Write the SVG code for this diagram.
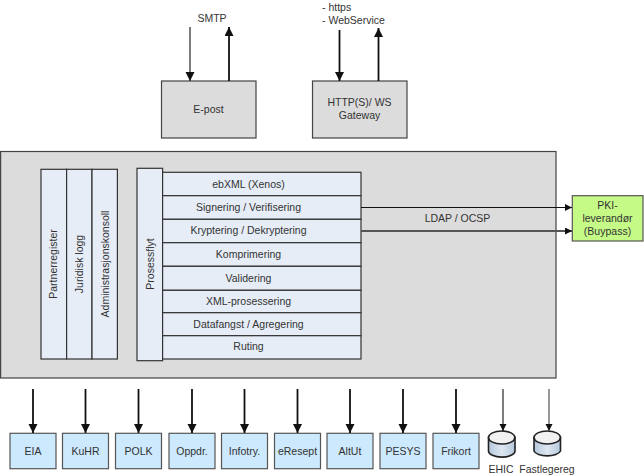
<svg xmlns="http://www.w3.org/2000/svg" width="644" height="476" viewBox="0 0 644 476">
<style>
text{font-family:"Liberation Sans",Arial,sans-serif;font-size:10.5px;fill:#333;text-anchor:middle}
.grey{fill:#dcdcdc;stroke:#444;stroke-width:1.2}
.pale{fill:#e6edf7;stroke:#333;stroke-width:1.2}
.sys{fill:#cce9fd;stroke:#555;stroke-width:1.2}
.pki{fill:#c6fa87;stroke:#555;stroke-width:1.2}
.conn{fill:none;stroke:#111;stroke-width:1.8}
.thin{stroke-width:1.1}
.body{fill:url(#drum);stroke:#222;stroke-width:1.6}
.top{fill:#f1f1f1;stroke:#222;stroke-width:1.6}
</style>
<defs>
<marker id="arr" markerUnits="userSpaceOnUse" markerWidth="10" markerHeight="10" refX="9" refY="4.5" orient="auto"><path d="M0,0L9,4.5L0,9z" fill="#111"/></marker>
<marker id="arrs" markerUnits="userSpaceOnUse" markerWidth="8" markerHeight="8" refX="7" refY="3.5" orient="auto"><path d="M0,0L7,3.5L0,7z" fill="#111"/></marker>
<linearGradient id="drum" x1="0" x2="1" y1="0" y2="0"><stop offset="0" stop-color="#b5c8de"/><stop offset="0.5" stop-color="#dfe7f0"/><stop offset="1" stop-color="#b5c8de"/></linearGradient>
</defs>

<g id="platform"><rect class="grey" x="0.6" y="151.5" width="555.4" height="226.5"/></g>

<g id="epost"><rect class="grey" x="161.5" y="81" width="94.5" height="57"/><text x="208.5" y="113">E-post</text></g>
<g id="gateway"><rect class="grey" x="312.5" y="81" width="94.5" height="57"/><text x="359.5" y="106">HTTP(S)/ WS</text><text x="359.5" y="119">Gateway</text></g>

<g id="partnerregister"><rect class="pale" x="41" y="169.3" width="25.6" height="189.7"/><text transform="translate(57,264) rotate(-90)">Partnerregister</text></g>
<g id="juridisk-logg"><rect class="pale" x="66.6" y="169.3" width="25.4" height="189.7"/><text transform="translate(83,264) rotate(-90)">Juridisk logg</text></g>
<g id="adminkonsoll"><rect class="pale" x="92" y="169.3" width="25.4" height="189.7"/><text transform="translate(108.5,264) rotate(-90)">Administrasjonskonsoll</text></g>
<g id="prosessflyt"><rect class="pale" x="137" y="168.3" width="25.6" height="192.4"/><text transform="translate(153.5,264) rotate(-90)">Prosessflyt</text></g>

<g id="ebxml"><rect class="pale" x="162.6" y="172.3" width="198.4" height="23.4"/><text x="248.5" y="188">ebXML (Xenos)</text></g>
<g id="signering"><rect class="pale" x="162.6" y="195.7" width="198.4" height="23.6"/><text x="248.5" y="210.5">Signering / Verifisering</text></g>
<g id="kryptering"><rect class="pale" x="162.6" y="219.3" width="198.4" height="23.4"/><text x="248.5" y="234">Kryptering / Dekryptering</text></g>
<g id="komprimering"><rect class="pale" x="162.6" y="242.7" width="198.4" height="23.6"/><text x="248.5" y="258">Komprimering</text></g>
<g id="validering"><rect class="pale" x="162.6" y="266.3" width="198.4" height="24"/><text x="248.5" y="281.5">Validering</text></g>
<g id="xml-prosessering"><rect class="pale" x="162.6" y="290.3" width="198.4" height="22.4"/><text x="248.5" y="305">XML-prosessering</text></g>
<g id="datafangst"><rect class="pale" x="162.6" y="312.7" width="198.4" height="23"/><text x="248.5" y="328">Datafangst / Agregering</text></g>
<g id="ruting"><rect class="pale" x="162.6" y="335.7" width="198.4" height="23.3"/><text x="248.5" y="350">Ruting</text></g>

<g id="pki"><rect class="pki" x="572.3" y="195.7" width="70.7" height="45.3"/><text x="607.5" y="209">PKI-</text><text x="607.5" y="222">leverandør</text><text x="607.5" y="235">(Buypass)</text></g>

<g id="eia"><rect class="sys" x="10" y="433.3" width="46" height="35.4"/><text x="33" y="454.5">EIA</text></g>
<g id="kuhr"><rect class="sys" x="62.5" y="433.3" width="46" height="35.4"/><text x="85.5" y="454.5">KuHR</text></g>
<g id="polk"><rect class="sys" x="115.5" y="433.3" width="46" height="35.4"/><text x="138.5" y="454.5">POLK</text></g>
<g id="oppdr"><rect class="sys" x="169" y="433.3" width="46" height="35.4"/><text x="192" y="454.5">Oppdr.</text></g>
<g id="infotry"><rect class="sys" x="221.5" y="433.3" width="46" height="35.4"/><text x="244.5" y="454.5">Infotry.</text></g>
<g id="eresept"><rect class="sys" x="274.5" y="433.3" width="46" height="35.4"/><text x="297.5" y="454.5">eResept</text></g>
<g id="altut"><rect class="sys" x="327" y="433.3" width="46" height="35.4"/><text x="350" y="454.5">AltUt</text></g>
<g id="pesys"><rect class="sys" x="380" y="433.3" width="46" height="35.4"/><text x="403" y="454.5">PESYS</text></g>
<g id="frikort"><rect class="sys" x="433" y="433.3" width="46" height="35.4"/><text x="456" y="454.5">Frikort</text></g>

<g id="ehic"><path class="body" d="M488.5,437.5V451A13,6 0 0 0 515,451V437.5z"/><ellipse class="top" cx="501.7" cy="437.5" rx="13.2" ry="6.5"/><text x="501" y="472.5">EHIC</text></g>
<g id="fastlegereg"><path class="body" d="M534,437.5V451A13.5,6 0 0 0 560.5,451V437.5z"/><ellipse class="top" cx="547.2" cy="437.5" rx="13.2" ry="6.5"/><text x="547" y="472.5">Fastlegereg</text></g>

<g id="connectors">
<path class="conn thin" marker-end="url(#arr)" d="M190,27V81"/>
<path class="conn" marker-end="url(#arr)" d="M229,81V27"/>
<path class="conn" marker-end="url(#arr)" d="M339.5,30V81"/>
<path class="conn" marker-end="url(#arr)" d="M378.5,81V28"/>
<path class="conn thin" marker-end="url(#arrs)" d="M361,207.5H572"/>
<path class="conn" style="stroke:#555" marker-end="url(#arrs)" d="M361,231H572"/>
<path class="conn" marker-end="url(#arr)" d="M33,389V433"/>
<path class="conn" marker-end="url(#arr)" d="M85.5,389V433"/>
<path class="conn" marker-end="url(#arr)" d="M138.5,389V433"/>
<path class="conn" marker-end="url(#arr)" d="M192,389V433"/>
<path class="conn" marker-end="url(#arr)" d="M244.5,389V433"/>
<path class="conn" marker-end="url(#arr)" d="M297.5,389V433"/>
<path class="conn" marker-end="url(#arr)" d="M350,389V433"/>
<path class="conn" marker-end="url(#arr)" d="M403,389V433"/>
<path class="conn" marker-end="url(#arr)" d="M456,389V433"/>
<path class="conn thin" marker-end="url(#arrs)" d="M503,389V431"/>
<path class="conn thin" style="stroke:#444" marker-end="url(#arrs)" d="M549,389V431"/>
</g>

<text x="212" y="22">SMTP</text>
<text x="322" y="11" style="text-anchor:start">- https</text>
<text x="322" y="24" style="text-anchor:start">- WebService</text>
<text x="457.5" y="222">LDAP / OCSP</text>
</svg>
